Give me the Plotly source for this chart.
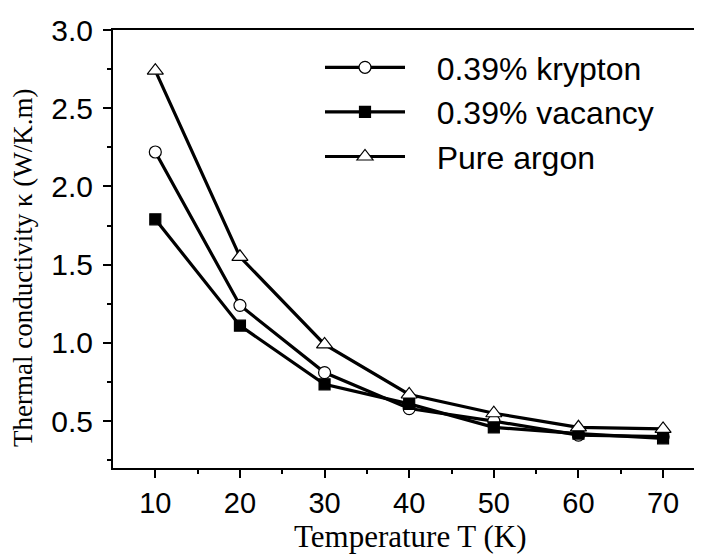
import plotly.graph_objects as go

temps = [10, 20, 30, 40, 50, 60, 70]
krypton = [2.22, 1.24, 0.81, 0.58, 0.50, 0.41, 0.40]
vacancy = [1.79, 1.11, 0.735, 0.61, 0.46, 0.42, 0.39]
argon = [2.74, 1.55, 0.99, 0.67, 0.55, 0.46, 0.45]

names = ["0.39% krypton", "0.39% vacancy", "Pure argon"]
x_ticks = [10, 20, 30, 40, 50, 60, 70]
y_ticks = [0.5, 1.0, 1.5, 2.0, 2.5, 3.0]
y_ticktext = ["0.5", "1.0", "1.5", "2.0", "2.5", "3.0"]

# the page body has an 8px margin, so the figure is sized to fit the window
OFF = 8
W, H = 702 - OFF, 554 - OFF
L, R, T, B = 113 - OFF, 0, 30 - OFF, H - (468 - OFF)
pw = W - L - R
ph = H - T - B


def px(sx):
    return (sx - 113) / pw


def py(sy):
    return (468 - sy) / ph


fig = go.Figure()
series = [
    (krypton, names[0], "circle", "white", 12),
    (vacancy, names[1], "square", "black", 11),
    (argon, names[2], "triangle-up", "white", 14),
]
for vals, name, sym, fill, sz in series:
    fig.add_trace(go.Scatter(
        x=temps, y=vals, name="\u00a0\u00a0\u00a0" + name, mode="lines+markers",
        line=dict(color="black", width=3.2),
        marker=dict(symbol=sym, size=sz, color=fill,
                    line=dict(color="black", width=1.2)),
    ))

sans = "Liberation Sans, Arial, Helvetica"
serif = "Liberation Serif, Times New Roman, serif"

fig.update_layout(
    width=W, height=H,
    margin=dict(l=L, r=R, t=T, b=B, pad=0),
    plot_bgcolor="white", paper_bgcolor="white",
    showlegend=True,
    legend=dict(
        x=px(320), y=py(40), xanchor="left", yanchor="top",
        font=dict(family=sans, size=32, color="black"),
        bgcolor="rgba(0,0,0,0)", itemwidth=80,
        traceorder="normal",
    ),
    xaxis=dict(
        range=[5, 74.6], tickvals=x_ticks,
        showline=True, linecolor="black", linewidth=2, mirror=True,
        ticks="outside", ticklen=8, tickwidth=2, tickcolor="black",
        minor=dict(tickvals=[15, 25, 35, 45, 55, 65], ticks="outside",
                   ticklen=4, tickwidth=2, tickcolor="black"),
        showgrid=False, zeroline=False, automargin=False,
        tickfont=dict(family=sans, size=29, color="black"),
    ),
    yaxis=dict(
        range=[0.2, 3.0], tickvals=y_ticks, ticktext=y_ticktext,
        showline=True, linecolor="black", linewidth=2,
        ticks="outside", ticklen=8, tickwidth=2, tickcolor="black",
        minor=dict(tickvals=[0.25, 0.75, 1.25, 1.75, 2.25, 2.75], ticks="outside",
                   ticklen=4, tickwidth=2, tickcolor="black"),
        showgrid=False, zeroline=False, automargin=False,
        ticklabelstandoff=4,
        tickfont=dict(family=sans, size=30, color="black"),
    ),
    annotations=[
        dict(text="Temperature T (K)", xref="paper", yref="paper",
             x=px(410), y=py(536), xanchor="center", yanchor="middle",
             showarrow=False,
             font=dict(family=serif, size=31, color="black")),
        dict(text="Thermal conductivity κ (W/K.m)", xref="paper", yref="paper",
             x=px(23), y=py(268), xanchor="center", yanchor="middle",
             textangle=-90, showarrow=False,
             font=dict(family=serif, size=27, color="black")),
    ],
)

fig.write_html("out.html")
